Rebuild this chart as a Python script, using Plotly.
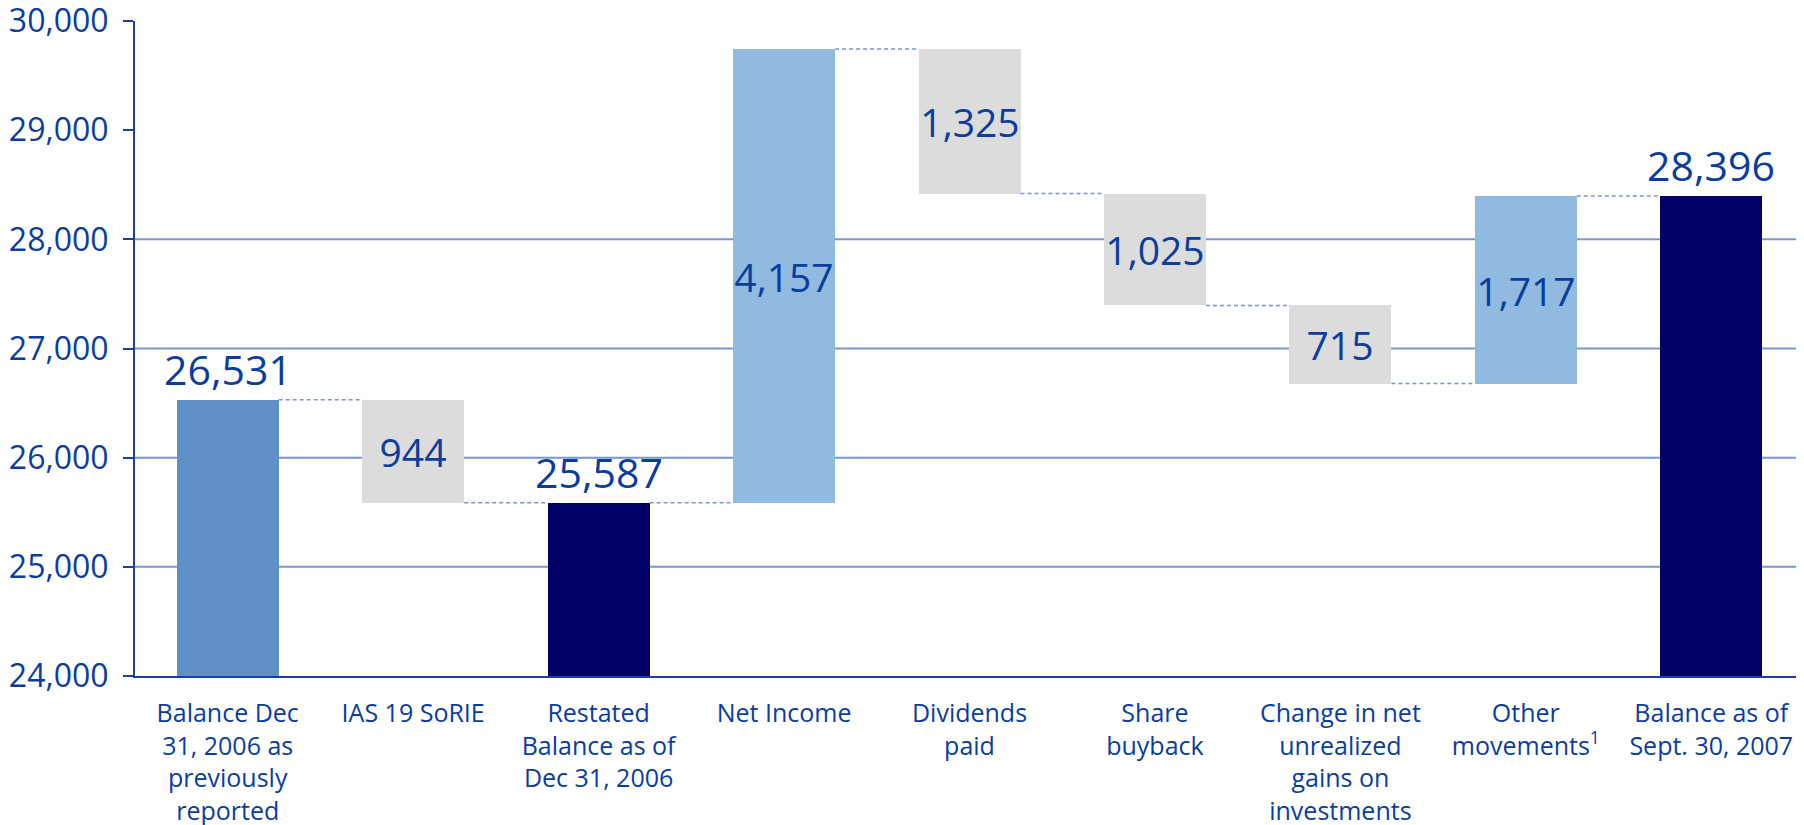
import plotly.graph_objects as go

# categories shown under each bar
categories = [
    "Balance Dec<br>31, 2006 as<br>previously<br>reported",
    "IAS 19 SoRIE",
    "Restated<br>Balance as of<br>Dec 31, 2006",
    "Net Income",
    "Dividends<br>paid",
    "Share<br>buyback",
    "Change in net<br>unrealized<br>gains on<br>investments",
    "Other<br>movements<sup>1</sup>",
    "Balance as of<br>Sept. 30, 2007",
]
# signed movements; None marks a balance bar
values = [26531, -944, None, 4157, -1325, -1025, -715, 1717, None]
kinds = ["start", "change", "total", "change", "change", "change", "change", "change", "total"]
grid_levels = [25000, 26000, 27000, 28000]
y_ticks = [24000, 25000, 26000, 27000, 28000, 29000, 30000]

TEXT = "#0b3d9e"
AXIS = "#1a3f9f"
GRID = "#7a97d2"
colors = {"start": "#6190c8", "total": "#000066", "up": "#90badf", "down": "#dcdcdc"}
FLOOR = 24000
W = 0.55

xs = list(range(len(categories)))
bases, heights, bar_colors, texts, positions, sizes, levels = [], [], [], [], [], [], []
running = 0
for v, k in zip(values, kinds):
    if k == "start":
        running = v
        bases.append(FLOOR); heights.append(v - FLOOR)
        bar_colors.append(colors["start"]); texts.append(f"{v:,}")
        positions.append("outside"); sizes.append(41)
    elif k == "total":
        bases.append(FLOOR); heights.append(running - FLOOR)
        bar_colors.append(colors["total"]); texts.append(f"{running:,}")
        positions.append("outside"); sizes.append(41)
    else:
        lo = min(running, running + v)
        bases.append(lo); heights.append(abs(v))
        bar_colors.append(colors["up"] if v > 0 else colors["down"])
        texts.append(f"{abs(v):,}"); positions.append("inside"); sizes.append(39)
        running += v
    levels.append(running)

fig = go.Figure()

# gridlines only at the inner levels
for g in grid_levels:
    fig.add_shape(type="line", xref="paper", x0=0, x1=1, y0=g, y1=g,
                  line=dict(color=GRID, width=2), layer="below")

# dashed connectors between neighbouring bars
cx, cy = [], []
for i in range(len(xs) - 1):
    cx += [xs[i] + W / 2, xs[i + 1] - W / 2, None]
    cy += [levels[i], levels[i], None]
fig.add_trace(go.Scatter(x=cx, y=cy, mode="lines", showlegend=False, hoverinfo="skip",
                         line=dict(color=GRID, width=1.5, dash="4px,3px")))

fig.add_trace(go.Bar(x=xs, y=heights, base=bases, width=W,
                     marker=dict(color=bar_colors, line=dict(width=0)),
                     text=texts, textposition=positions, constraintext="none",
                     textangle=0, insidetextanchor="middle", cliponaxis=False,
                     textfont=dict(color=TEXT, size=sizes, family="Open Sans"),
                     showlegend=False))

# page body has an 8px margin, so the figure is sized to fit inside the window
fig.update_layout(
    width=1796, height=817,
    margin=dict(l=127, r=0, t=13, b=149),
    plot_bgcolor="white", paper_bgcolor="white",
    font=dict(family="Open Sans", color=TEXT),
    bargap=0,
)
fig.update_xaxes(range=[-0.5, len(xs) - 0.5], tickvals=xs, ticktext=categories,
                 tickfont=dict(size=25, color=TEXT), showgrid=False, zeroline=False,
                 showline=True, linecolor=AXIS, linewidth=2, ticks="", tickangle=0,
                 ticklabelstandoff=14, automargin=False)
fig.update_yaxes(range=[FLOOR, 30000], tickvals=y_ticks, tickformat=",",
                 tickfont=dict(size=32, color=TEXT), showgrid=False, zeroline=False,
                 showline=True, linecolor=AXIS, linewidth=2,
                 ticks="outside", ticklen=10, tickcolor=AXIS, tickwidth=2,
                 ticklabelstandoff=8, ticklabeloverflow="allow", automargin=False)

fig.write_html("out.html")
